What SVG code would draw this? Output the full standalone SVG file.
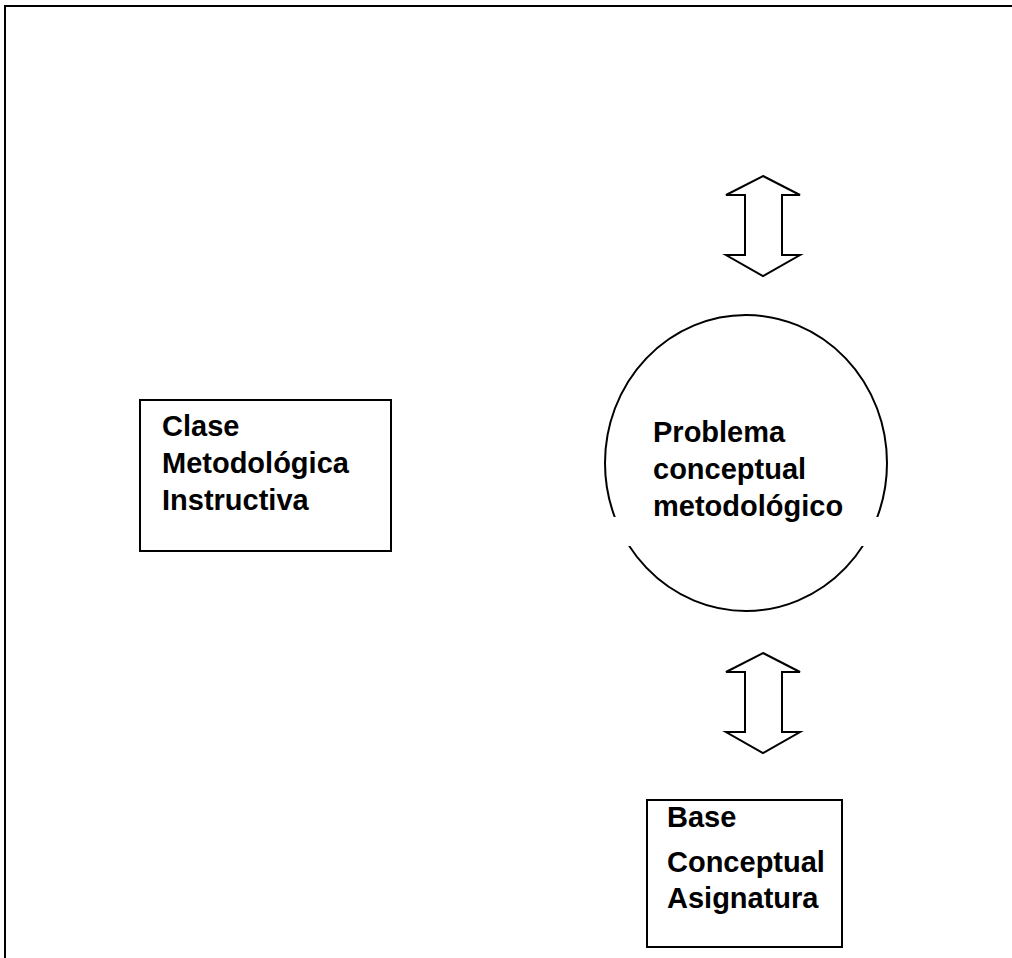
<svg xmlns="http://www.w3.org/2000/svg" width="1012" height="958" viewBox="0 0 1012 958">
  <style>
    .frame { fill: none; stroke: #000; stroke-width: 2; }
    .box { fill: #fff; stroke: #000; stroke-width: 2; }
    .shape { fill: none; stroke: #000; stroke-width: 2; stroke-linejoin: miter; }
    .label { font-family: "Liberation Sans", Arial, Helvetica, sans-serif; font-size: 29px; font-weight: bold; fill: #000; }
  </style>
  <defs>
    <!-- hollow double-headed block arrow, 75 wide x 100 tall, origin at top tip -->
    <path id="dblArrow" d="M0,0 L37,19 L19,19 L19,79 L37,79 L0,100 L-37,79 L-18,79 L-18,19 L-37,19 Z"/>
  </defs>

  <rect width="1012" height="958" fill="#fff"/>

  <!-- page frame (top and left edges) -->
  <path class="frame" d="M5,958 L5,6 L1012,6"/>

  <g id="connectors">
    <use href="#dblArrow" class="shape" x="763" y="176"/>
    <use href="#dblArrow" class="shape" x="763" y="653"/>
  </g>

  <g id="clase">
    <rect class="box" x="140" y="400" width="251" height="151"/>
    <text class="label" x="162" y="436">Clase</text>
    <text class="label" x="162" y="473">Metodológica</text>
    <text class="label" x="162" y="510">Instructiva</text>
  </g>

  <g id="problema">
    <ellipse class="shape" cx="746" cy="463" rx="141" ry="148"/>
    <!-- text panel band breaking the outline -->
    <rect x="598" y="517" width="300" height="29" fill="#fff"/>
    <text class="label" x="653" y="442">Problema</text>
    <text class="label" x="653" y="479">conceptual</text>
    <text class="label" x="653" y="516">metodológico</text>
  </g>

  <g id="base">
    <rect class="box" x="647" y="800" width="195" height="147"/>
    <text class="label" x="667" y="827">Base</text>
    <text class="label" x="667" y="872">Conceptual</text>
    <text class="label" x="667" y="908">Asignatura</text>
  </g>
</svg>
